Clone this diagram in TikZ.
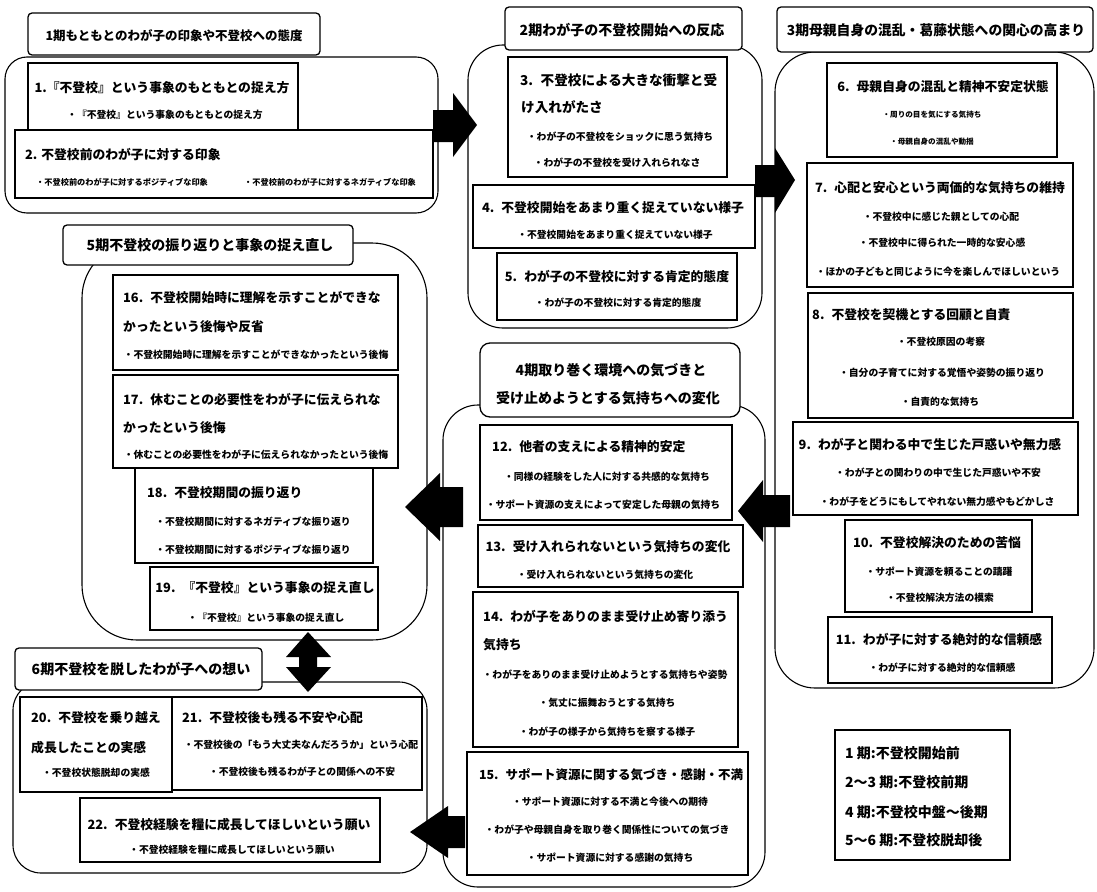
\documentclass[tikz,border=0pt]{standalone}
\usepackage{fontspec}
\setmainfont{Noto Sans CJK JP}
\newcommand\mkbox[6]{\node[#6, minimum width={(#4-#2)*1pt}, minimum height={(#5-#3)*1pt}] (#1) at ({(#2+#4)/2},{(#3+#5)/2}) {};}
\newcommand\gp{\hspace{0.55em}}
\tikzset{
  grp/.style={draw, line width=1.1pt, inner sep=0pt},
  ttlbox/.style={draw, fill=white, line width=1.3pt, rounded corners=4pt, inner sep=0pt},
  ibox/.style={draw, fill=white, line width=1.5pt, inner sep=0pt},
  ttl/.style={inner sep=0pt, font=\bfseries\fontsize{14}{15}\selectfont},
  hd/.style={inner sep=0pt, font=\bfseries\fontsize{12.8}{14}\selectfont},
  bl/.style={inner sep=0pt, font=\bfseries\fontsize{9.8}{11}\selectfont},
  bls/.style={inner sep=0pt, font=\bfseries\fontsize{8.2}{9}\selectfont},
  blxs/.style={inner sep=0pt, font=\bfseries\fontsize{7.6}{9}\selectfont},
  lg/.style={inner sep=0pt, anchor=west, font=\bfseries\fontsize{14}{15}\selectfont},
  blk/.style={fill=black, draw=none}
}
\begin{document}
\begin{tikzpicture}[x=1pt,y=-1pt]
\useasboundingbox (0,0) rectangle (1097,891);
% group frames
\mkbox{g1}{5}{57}{438}{213}{grp, rounded corners=22pt}
\mkbox{g2}{468}{45}{762}{328}{grp, rounded corners=35pt}
\mkbox{g3}{775}{52}{1094}{688}{grp, rounded corners=40pt}
\mkbox{g4}{443}{405}{765}{887}{grp, rounded corners=35pt}
\mkbox{g5}{82}{243}{427}{640}{grp, rounded corners=55pt}
\mkbox{g6}{13}{682}{427}{873}{grp, rounded corners=28pt}
% title boxes
\mkbox{t1}{28}{13}{320}{55}{ttlbox}
\mkbox{t2}{505}{7}{742}{50}{ttlbox}
\mkbox{t3}{777}{7}{1093}{52}{ttlbox}
\mkbox{t4}{480}{343}{740}{417}{ttlbox, rounded corners=10pt}
\mkbox{t5}{63}{225}{353}{265}{ttlbox}
\mkbox{t6}{15}{648}{262}{690}{ttlbox}
\node[ttl, font=\bfseries\fontsize{12.5}{14}\selectfont] (t1a) at (174,36) {1期もともとのわが子の印象や不登校への態度};
\node[ttl] (t2a) at (622,30) {2期わが子の不登校開始への反応};
\node[ttl, font=\bfseries\fontsize{13.8}{15}\selectfont] (t3a) at (936,30) {3期母親自身の混乱・葛藤状態への関心の高まり};
\node[ttl] (t4a) at (611,370) {4期取り巻く環境への気づきと};
\node[ttl] (t4b) at (608,398) {受け止めようとする気持ちへの変化};
\node[ttl] (t5a) at (210,245) {5期不登校の振り返りと事象の捉え直し};
\node[ttl] (t6a) at (141,669) {6期不登校を脱したわが子への想い};
% group 1
\mkbox{b1}{28}{63}{298}{130}{ibox}
\node[hd] (b1h) at (162,88) {1.『不登校』という事象のもともとの捉え方};
\node[bl] (b1a) at (165,115) {・『不登校』という事象のもともとの捉え方};
\mkbox{b2}{15}{130}{433}{198}{ibox}
\node[hd, anchor=west] (b2h) at (25,155) {2. 不登校前のわが子に対する印象};
\node[bls, anchor=west] (b2a) at (36,182) {・不登校前のわが子に対するポジティブな印象};
\node[bls, anchor=west] (b2b) at (244,182) {・不登校前のわが子に対するネガティブな印象};
% group 2
\mkbox{b3}{508}{57}{727}{177}{ibox}
\node[hd, anchor=west, font=\bfseries\fontsize{13.6}{15}\selectfont] (b3h) at (520,80) {3.\gp 不登校による大きな衝撃と受};
\node[hd, anchor=west, font=\bfseries\fontsize{13.6}{15}\selectfont] (b3i) at (521,107) {け入れがたさ};
\node[bl] (b3a) at (620,137) {・わが子の不登校をショックに思う気持ち};
\node[bl] (b3b) at (617,163) {・わが子の不登校を受け入れられなさ};
\mkbox{b4}{473}{185}{755}{248}{ibox}
\node[hd] (b4h) at (613,208) {4.\gp 不登校開始をあまり重く捉えていない様子};
\node[bl] (b4a) at (615,235) {・不登校開始をあまり重く捉えていない様子};
\mkbox{b5}{497}{253}{737}{320}{ibox}
\node[hd] (b5h) at (617,277) {5.\gp わが子の不登校に対する肯定的態度};
\node[bl] (b5a) at (618,303) {・わが子の不登校に対する肯定的態度};
% group 3
\mkbox{b6}{827}{63}{1057}{157}{ibox}
\node[hd] (b6h) at (943,87) {6.\gp 母親自身の混乱と精神不安定状態};
\node[blxs] (b6a) at (932,115) {・周りの目を気にする気持ち};
\node[blxs] (b6b) at (932,142) {・母親自身の混乱や動揺};
\mkbox{b7}{807}{163}{1073}{287}{ibox}
\node[hd] (b7h) at (940,188) {7.\gp 心配と安心という両価的な気持ちの維持};
\node[bl] (b7a) at (941,217) {・不登校中に感じた親としての心配};
\node[bl] (b7b) at (942,243) {・不登校中に得られた一時的な安心感};
\node[bl] (b7c) at (938,272) {・ほかの子どもと同じように今を楽しんでほしいという};
\mkbox{b8}{808}{293}{1073}{418}{ibox}
\node[hd, anchor=west] (b8h) at (812,315) {8.\gp 不登校を契機とする回顧と自責};
\node[bl] (b8a) at (941,342) {・不登校原因の考察};
\node[bl] (b8b) at (942,373) {・自分の子育てに対する覚悟や姿勢の振り返り};
\node[bl] (b8c) at (940,402) {・自責的な気持ち};
\mkbox{b9}{793}{422}{1078}{515}{ibox}
\node[hd] (b9h) at (930,445) {9.\gp わが子と関わる中で生じた戸惑いや無力感};
\node[bl] (b9a) at (938,473) {・わが子との関わりの中で生じた戸惑いや不安};
\node[bl] (b9b) at (937,502) {・わが子をどうにもしてやれない無力感やもどかしさ};
\mkbox{b10}{845}{520}{1032}{612}{ibox}
\node[hd] (b10h) at (937,543) {10.\gp 不登校解決のための苦悩};
\node[bl] (b10a) at (939,572) {・サポート資源を頼ることの躊躇};
\node[bl] (b10b) at (940,598) {・不登校解決方法の模索};
\mkbox{b11}{828}{617}{1052}{683}{ibox}
\node[hd] (b11h) at (939,640) {11.\gp わが子に対する絶対的な信頼感};
\node[bl] (b11a) at (942,668) {・わが子に対する絶対的な信頼感};
% group 4
\mkbox{b12}{480}{425}{732}{520}{ibox}
\node[hd, anchor=west] (b12h) at (492,447) {12.\gp 他者の支えによる精神的安定};
\node[bl] (b12a) at (607,477) {・同様の経験をした人に対する共感的な気持ち};
\node[bl] (b12b) at (603,505) {・サポート資源の支えによって安定した母親の気持ち};
\mkbox{b13}{478}{525}{743}{587}{ibox}
\node[hd] (b13h) at (608,547) {13.\gp 受け入れられないという気持ちの変化};
\node[bl] (b13a) at (605,575) {・受け入れられないという気持ちの変化};
\mkbox{b14}{473}{592}{738}{747}{ibox}
\node[hd, anchor=west] (b14h) at (483,617) {14.\gp わが子をありのまま受け止め寄り添う};
\node[hd, anchor=west] (b14i) at (483,645) {気持ち};
\node[bl] (b14a) at (605,675) {・わが子をありのまま受け止めようとする気持ちや姿勢};
\node[bl] (b14b) at (607,703) {・気丈に振舞おうとする気持ち};
\node[bl] (b14c) at (607,732) {・わが子の様子から気持ちを察する様子};
\mkbox{b15}{467}{752}{748}{875}{ibox}
\node[hd, font=\bfseries\fontsize{12.5}{14}\selectfont] (b15h) at (611,775) {15.\gp サポート資源に関する気づき・感謝・不満};
\node[bl] (b15a) at (610,802) {・サポート資源に対する不満と今後への期待};
\node[bl] (b15b) at (607,830) {・わが子や母親自身を取り巻く関係性についての気づき};
\node[bl] (b15c) at (610,858) {・サポート資源に対する感謝の気持ち};
% group 5
\mkbox{b16}{113}{275}{398}{370}{ibox}
\node[hd, anchor=west] (b16h) at (123,298) {16.\gp 不登校開始時に理解を示すことができな};
\node[hd, anchor=west] (b16i) at (123,327) {かったという後悔や反省};
\node[bl] (b16a) at (256,355) {・不登校開始時に理解を示すことができなかったという後悔};
\mkbox{b17}{113}{375}{398}{468}{ibox}
\node[hd, anchor=west] (b17h) at (123,400) {17.\gp 休むことの必要性をわが子に伝えられな};
\node[hd, anchor=west] (b17i) at (123,428) {かったという後悔};
\node[bl] (b17a) at (256,455) {・休むことの必要性をわが子に伝えられなかったという後悔};
\mkbox{b18}{135}{468}{373}{563}{ibox}
\node[hd, anchor=west] (b18h) at (147,493) {18.\gp 不登校期間の振り返り};
\node[bl] (b18a) at (253,522) {・不登校期間に対するネガティブな振り返り};
\node[bl] (b18b) at (253,550) {・不登校期間に対するポジティブな振り返り};
\mkbox{b19}{150}{567}{378}{630}{ibox}
\node[hd] (b19h) at (265,588) {19.\gp『不登校』という事象の捉え直し};
\node[bl] (b19a) at (266,618) {・『不登校』という事象の捉え直し};
% group 6
\mkbox{b20}{20}{697}{172}{792}{ibox}
\node[hd, anchor=west] (b20h) at (31,718) {20.\gp 不登校を乗り越え};
\node[hd, anchor=west] (b20i) at (31,748) {成長したことの実感};
\node[bl] (b20a) at (96,773) {・不登校状態脱却の実感};
\mkbox{b21}{172}{697}{422}{790}{ibox}
\node[hd, anchor=west] (b21h) at (182,718) {21.\gp 不登校後も残る不安や心配};
\node[bl] (b21a) at (301,745) {・不登校後の「もう大丈夫なんだろうか」という心配};
\node[bl] (b21b) at (302,772) {・不登校後も残るわが子との関係への不安};
\mkbox{b22}{80}{798}{380}{862}{ibox}
\node[hd] (b22h) at (229,825) {22.\gp 不登校経験を糧に成長してほしいという願い};
\node[bl] (b22a) at (232,850) {・不登校経験を糧に成長してほしいという願い};
% legend
\mkbox{lgd}{835}{730}{1010}{860}{draw, line width=1.2pt, inner sep=0pt}
\node[lg] (l1) at (845,753) {1 期:不登校開始前};
\node[lg] (l2) at (845,782) {2～3 期:不登校前期};
\node[lg] (l3) at (845,812) {4 期:不登校中盤～後期};
\node[lg] (l4) at (845,840) {5～6 期:不登校脱却後};
% block arrows
\fill[blk] (433,110) -- (453,110) -- (453,93) -- (477,125) -- (453,157) -- (453,142) -- (433,142) -- cycle;
\fill[blk] (755,165) -- (775,165) -- (775,148) -- (795,180) -- (775,213) -- (775,197) -- (755,197) -- cycle;
\fill[blk] (790,495) -- (763,495) -- (763,480) -- (738,511) -- (763,542) -- (763,527) -- (790,527) -- cycle;
\fill[blk] (463,487) -- (440,487) -- (440,473) -- (405,507) -- (440,541) -- (440,527) -- (463,527) -- cycle;
\fill[blk] (465,816) -- (448,816) -- (448,806) -- (410,832) -- (448,858) -- (448,848) -- (465,848) -- cycle;
\fill[blk] (308,632) -- (331,657) -- (317,657) -- (317,667) -- (331,667) -- (308,692) -- (286,667) -- (299,667) -- (299,657) -- (286,657) -- cycle;
\end{tikzpicture}
\end{document}
